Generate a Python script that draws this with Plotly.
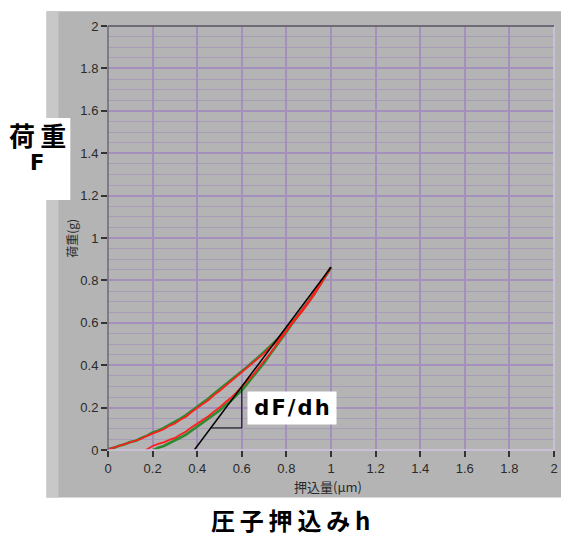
import plotly.graph_objects as go

# ---- data ----
load_x = [0.000, 0.025, 0.050, 0.075, 0.100, 0.125, 0.150, 0.175, 0.200, 0.225,
          0.250, 0.275, 0.300, 0.325, 0.350, 0.375, 0.400, 0.425, 0.450, 0.475,
          0.500, 0.525, 0.550, 0.575, 0.600, 0.625, 0.650, 0.675, 0.700, 0.725,
          0.750, 0.775, 0.800, 0.825, 0.850, 0.875, 0.900, 0.925, 0.950, 0.975, 1.000]
load_red = [0.003, 0.011, 0.018, 0.028, 0.035, 0.045, 0.053, 0.067, 0.078, 0.089,
            0.098, 0.114, 0.125, 0.143, 0.157, 0.179, 0.196, 0.217, 0.235, 0.259,
            0.278, 0.300, 0.320, 0.344, 0.364, 0.387, 0.409, 0.433, 0.456, 0.483,
            0.506, 0.534, 0.563, 0.604, 0.628, 0.660, 0.696, 0.735, 0.776, 0.818, 0.862]
load_green = [0.004, 0.010, 0.020, 0.027, 0.038, 0.044, 0.057, 0.068, 0.083, 0.091,
              0.104, 0.118, 0.133, 0.148, 0.165, 0.184, 0.204, 0.224, 0.243, 0.265,
              0.286, 0.306, 0.328, 0.350, 0.372, 0.393, 0.416, 0.438, 0.462, 0.487,
              0.511, 0.538, 0.566, 0.598, 0.630, 0.662, 0.698, 0.736, 0.777, 0.819, 0.862]

unload_red_x = [0.170, 0.185, 0.200, 0.225, 0.250, 0.275, 0.300, 0.325, 0.350, 0.375,
                0.400, 0.425, 0.450, 0.475, 0.500, 0.525, 0.550, 0.575, 0.600, 0.625,
                0.650, 0.675, 0.700, 0.725, 0.750, 0.775, 0.800, 0.825, 0.850, 0.875,
                0.900, 0.925, 0.950, 0.975, 1.000]
unload_red = [0.000, 0.011, 0.019, 0.029, 0.036, 0.048, 0.057, 0.073, 0.087, 0.107,
              0.124, 0.143, 0.159, 0.181, 0.200, 0.224, 0.245, 0.271, 0.297, 0.326,
              0.354, 0.386, 0.417, 0.453, 0.489, 0.526, 0.561, 0.598, 0.631, 0.668,
              0.702, 0.741, 0.779, 0.821, 0.862]

unload_green_x = [0.205, 0.225, 0.250, 0.275, 0.300, 0.325, 0.350, 0.375, 0.400, 0.425,
                  0.450, 0.475, 0.500, 0.525, 0.550, 0.575, 0.600, 0.625, 0.650, 0.675,
                  0.700, 0.725, 0.750, 0.775, 0.800, 0.825, 0.850, 0.875, 0.900, 0.925,
                  0.950, 0.975, 1.000]
unload_green = [0.000, 0.011, 0.019, 0.032, 0.043, 0.059, 0.073, 0.092, 0.109, 0.129,
                0.145, 0.167, 0.186, 0.210, 0.231, 0.257, 0.281, 0.313, 0.344, 0.379,
                0.411, 0.448, 0.483, 0.522, 0.557, 0.595, 0.629, 0.667, 0.701, 0.741,
                0.779, 0.821, 0.862]

tangent_x = [0.387, 1.000]
tangent_y = [0.000, 0.862]
triangle_x = [0.460, 0.600, 0.600]
triangle_y = [0.104, 0.104, 0.300]

x_ticks = [0, 0.2, 0.4, 0.6, 0.8, 1, 1.2, 1.4, 1.6, 1.8, 2]
x_labels = ["0", "0.2", "0.4", "0.6", "0.8", "1", "1.2", "1.4", "1.6", "1.8", "2"]
y_ticks = [0, 0.2, 0.4, 0.6, 0.8, 1, 1.2, 1.4, 1.6, 1.8, 2]
y_labels = ["0", "0.2", "0.4", "0.6", "0.8", "1", "1.2", "1.4", "1.6", "1.8", "2"]

# ---- figure (page body has an 8px margin, so the figure is offset) ----
OFF = 8
W, H = 569 - OFF, 536 - OFF
PL, PR, PT, PB = 108, 558, 21, 450          # plot-area edges in page pixels
L, R, T, B = PL - OFF, W - (PR - OFF), PT - OFF, H - (PB - OFF)
pw, ph = W - L - R, H - T - B

def px(xp):
    return (xp - OFF - L) / pw

def py(yp):
    return (H - B - (yp - OFF)) / ph

TS = "\u2009"  # thin space used as letter spacing
HS = "\u200a"  # hair space

GREEN = "#2f8a2f"
RED = "#ff1e1e"
TICKFONT = dict(family="Liberation Sans Narrow, Arial Narrow, Liberation Sans, sans-serif",
                size=13, color="#2a2a2a")
JP = "Noto Sans CJK JP"

fig = go.Figure()
fig.add_trace(go.Scatter(x=load_x, y=load_green, mode="lines",
                         line=dict(color=GREEN, width=2.6), hoverinfo="skip"))
fig.add_trace(go.Scatter(x=unload_green_x, y=unload_green, mode="lines",
                         line=dict(color=GREEN, width=2.6), hoverinfo="skip"))
fig.add_trace(go.Scatter(x=load_x, y=load_red, mode="lines",
                         line=dict(color=RED, width=1.8), hoverinfo="skip"))
fig.add_trace(go.Scatter(x=unload_red_x, y=unload_red, mode="lines",
                         line=dict(color=RED, width=1.8), hoverinfo="skip"))
fig.add_trace(go.Scatter(x=tangent_x, y=tangent_y, mode="lines",
                         line=dict(color="black", width=1.5), hoverinfo="skip"))
fig.add_trace(go.Scatter(x=triangle_x, y=triangle_y, mode="lines",
                         line=dict(color="black", width=1), hoverinfo="skip"))

shapes = [
    # gray panel
    dict(type="rect", xref="paper", yref="paper", x0=px(46), x1=px(569),
         y0=py(498), y1=py(6), fillcolor="#b4b4b4", line=dict(width=0), layer="below"),
    # light stripe at left of panel
    dict(type="rect", xref="paper", yref="paper", x0=px(46), x1=px(58),
         y0=py(498), y1=py(6), fillcolor="#c8c8c8", line=dict(width=0), layer="below"),
    # white label box on the left
    dict(type="rect", xref="paper", yref="paper", x0=px(8), x1=px(70),
         y0=py(197), y1=py(114), fillcolor="white", line=dict(width=0), layer="above"),
    # plot frame: bottom and right light, left and top dark
    dict(type="line", xref="paper", yref="paper", x0=0, x1=1, y0=0, y1=0,
         line=dict(color="#d2c4e0", width=1.5), layer="above"),
    dict(type="line", xref="paper", yref="paper", x0=1, x1=1, y0=0, y1=1,
         line=dict(color="#d2c4e0", width=1.5), layer="above"),
    dict(type="line", xref="paper", yref="paper", x0=0, x1=0, y0=0, y1=1,
         line=dict(color="#6e6a78", width=1.5), layer="above"),
    dict(type="line", xref="paper", yref="paper", x0=0, x1=1, y0=1, y1=1,
         line=dict(color="#6e6a78", width=2), layer="above"),
]

annotations = [
    dict(text="<b>荷" + TS + "重</b>", xref="paper", yref="paper", x=px(37), y=py(131),
         showarrow=False, font=dict(family=JP, size=26, color="black"),
         xanchor="center", yanchor="middle"),
    dict(text="<b>F</b>", xref="paper", yref="paper", x=px(36), y=py(160),
         showarrow=False, font=dict(family="DejaVu Sans", size=21, color="black"),
         xanchor="center", yanchor="middle"),
    dict(text="<b>" + TS.join("圧子押込みh") + "</b>", xref="paper", yref="paper",
         x=px(292), y=py(520), height=28,
         showarrow=False, font=dict(family=JP, size=24, color="black"),
         xanchor="center", yanchor="middle"),
    dict(text="<b>" + HS.join("dF/dh") + "</b>", xref="paper", yref="paper",
         x=px(294), y=py(408),
         showarrow=False, font=dict(family="DejaVu Sans", size=21, color="black"),
         xanchor="center", yanchor="middle", bgcolor="white", width=88, height=32,
         borderpad=0),
    dict(text="荷重(g)", xref="paper", yref="paper", x=px(71), y=py(236),
         showarrow=False, textangle=-90, font=dict(family=JP, size=12, color="#2a2a2a"),
         xanchor="center", yanchor="middle"),
    dict(text="押込量(μm)", xref="paper", yref="paper", x=px(330), y=py(487),
         showarrow=False, font=dict(family=JP, size=13, color="#2a2a2a"),
         xanchor="center", yanchor="middle"),
]

fig.update_layout(
    width=W, height=H,
    margin=dict(l=L, r=R, t=T, b=B, pad=0),
    paper_bgcolor="white",
    plot_bgcolor="#b2b2b2",
    showlegend=False,
    shapes=shapes,
    annotations=annotations,
    xaxis=dict(range=[0, 2], tickvals=x_ticks, ticktext=x_labels,
               showgrid=True, gridcolor="#a58fbd", gridwidth=2,
               zeroline=False, showline=False,
               ticks="outside", ticklen=6, tickwidth=1.5, tickcolor="#333333",
               tickfont=TICKFONT, fixedrange=True),
    yaxis=dict(range=[0, 2], tickvals=y_ticks, ticktext=y_labels,
               showgrid=True, gridcolor="#a58fbd", gridwidth=2,
               minor=dict(dtick=0.05, showgrid=True, gridcolor="#a99cb8", gridwidth=1,
                          ticks=""),
               zeroline=False, showline=False,
               ticks="outside", ticklen=6, tickwidth=1.5, tickcolor="#333333",
               tickfont=TICKFONT, fixedrange=True),
)

fig.write_html("out.html")
